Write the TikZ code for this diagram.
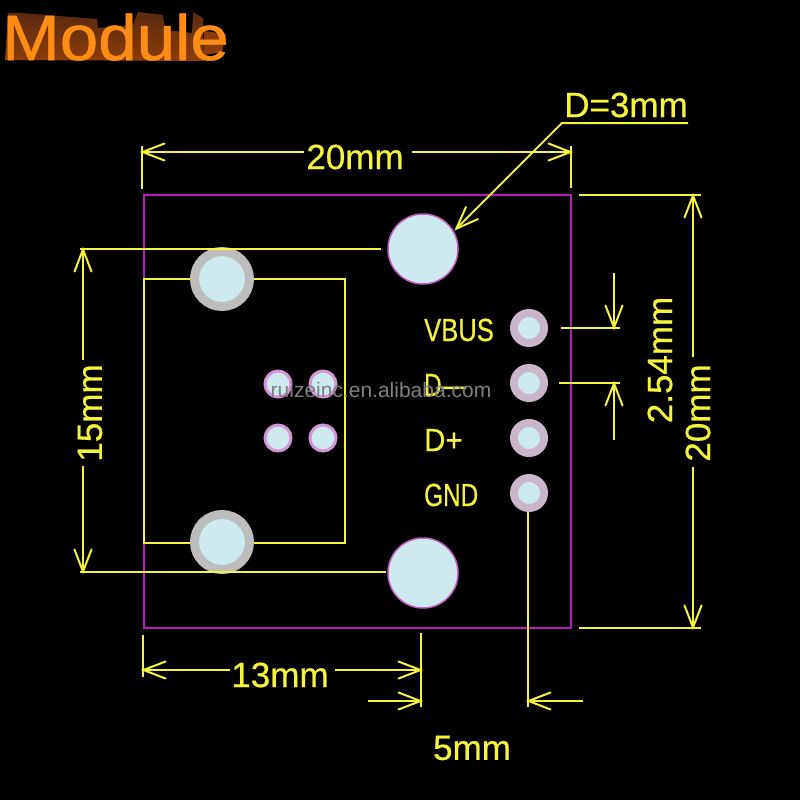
\documentclass[tikz,border=0pt]{standalone}
\usepackage{fontspec}
\setmainfont{Liberation Sans}
\newfontfamily\cadfont[FakeBold=0.6]{Liberation Sans}
\newfontfamily\modfont[FakeBold=0.8]{Liberation Sans}
\usetikzlibrary{arrows.meta}
\definecolor{cadyellow}{HTML}{F4F43C}
\definecolor{boardmag}{HTML}{B81CB8}
\definecolor{padblue}{HTML}{CDEBEE}
\definecolor{padlilac}{HTML}{C9B7C9}
\definecolor{padgray}{HTML}{BDBDBD}
\definecolor{rimmag}{HTML}{C060C0}
\definecolor{tinyrim}{HTML}{D494D8}
\definecolor{modorange}{HTML}{FF8C14}
\definecolor{modbrowntop}{HTML}{5A2A10}
\definecolor{modbrownlow}{HTML}{8C3C08}
\pgfdeclarearrow{
  name=CadBarb,
  setup code={\pgfarrowssettipend{0.5pt}\pgfarrowssetlineend{-0.5pt}\pgfarrowssetvisualbackend{-21pt}\pgfarrowssetbackend{-21pt}},
  drawing code={\pgfsetdash{}{0pt}\pgfsetroundcap\pgfpathmoveto{\pgfpoint{-22pt}{8.5pt}}\pgfpathlineto{\pgfpoint{0pt}{0pt}}\pgfpathlineto{\pgfpoint{-22pt}{-8.5pt}}\pgfusepathqstroke},
}
\tikzset{
  dimline/.style={draw=cadyellow,line width=2pt},
  dimarrow/.style={dimline,-{CadBarb}},
  cadtext/.style={text=cadyellow,inner sep=0pt,font=\cadfont\fontsize{35}{35}\selectfont},
  pintext/.style={text=cadyellow,inner sep=0pt,anchor=west,xscale=0.8,font=\cadfont\fontsize{32}{32}\selectfont},
  hole/.style={circle,draw=rimmag,line width=1.5pt,fill=padblue,minimum size=#1,inner sep=0pt},
  graypad/.style={circle,draw=padgray,line width=9pt,fill=padblue,minimum size=#1,inner sep=0pt},
  pinpad/.style={circle,draw=padlilac,line width=8pt,fill=padblue,minimum size=#1,inner sep=0pt},
  tinypad/.style={circle,draw=tinyrim,line width=3pt,fill=padblue,minimum size=#1,inner sep=0pt},
}
\begin{document}
\begin{tikzpicture}[x=1pt,y=-1pt]
\useasboundingbox[fill=black] (0,0) rectangle (800,800);
% Module banner
\shade[top color=modbrowntop,bottom color=modbrownlow]
  (5,60) -- (8,13) -- (20,13) -- (97,19) -- (98,28) -- (133,25) -- (138,12) -- (163,15) -- (165,30) -- (192,33) -- (193,12) -- (203,18) -- (204,61) -- cycle;
\fill[modbrownlow] (204,31) -- (226,34) -- (222,52) -- (204,55) -- cycle;
\node[text=modorange,inner sep=0pt,anchor=base west,xscale=1.08,font=\modfont\fontsize{64}{64}\selectfont] (module) at (2,60) {Module};
% Board
\draw[boardmag,line width=2.5pt] (144,195) rectangle (571,628);
% Connector outline
\draw[dimline] (144,279) rectangle (345,543);
% Mounting holes
\node[hole=70pt] (holetop) at (423,249) {};
\node[hole=70pt] (holebot) at (423,573) {};
\node[graypad=55pt] (shelltop) at (222,279) {};
\node[graypad=55pt] (shellbot) at (222,542) {};
% Small pads
\node[tinypad=26pt] (ta) at (278,384) {};
\node[tinypad=26pt] (tb) at (323,384) {};
\node[tinypad=26pt] (tc) at (278,438) {};
\node[tinypad=26pt] (td) at (323,438) {};
% Pin pads
\node[pinpad=30pt] (p1) at (529,328) {};
\node[pinpad=30pt] (p2) at (529,383) {};
\node[pinpad=30pt] (p3) at (529,438) {};
\node[pinpad=30pt] (p4) at (529,493) {};
% Pin labels
\node[pintext] (vbus) at (424,330) {VBUS};
\node[pintext,xscale=0.95] (dm) at (424,385) {D—};
\node[pintext,xscale=1.15] (dp) at (424,440) {D+};
\node[pintext,xscale=0.95] (gnd) at (424,495) {GND};
% Watermark
\node[text=gray,inner sep=0pt,font=\fontsize{21}{21}\selectfont] (wm) at (381,390) {ruizeinc.en.alibaba.com};
% 20mm top
\node[cadtext] (w20) at (355,157) {20mm};
\draw[dimline] (142,146) -- (142,189) (571,146) -- (571,188);
\draw[dimarrow] (304,152) -- (142,152);
\draw[dimarrow] (412,152) -- (571,152);
% D=3mm
\node[cadtext] (d3) at (626,105) {D=3mm};
\draw[dimarrow] (688,123) -- (562,123) -- (456,229);
% right 20mm
\node[cadtext,rotate=90] (h20) at (698,413) {20mm};
\draw[dimline] (579,195) -- (701,195) (579,628) -- (701,628);
\draw[dimarrow] (693,357) -- (693,195);
\draw[dimarrow] (693,467) -- (693,628);
% 2.54mm
\node[cadtext,rotate=90] (p254) at (660,360) {2.54mm};
\draw[dimline] (561,328) -- (620,328) (559,383) -- (620,383);
\draw[dimarrow] (614,273) -- (614,328);
\draw[dimarrow] (614,440) -- (614,383);
% 15mm
\node[cadtext,rotate=90] (h15) at (90,413) {15mm};
\draw[dimline] (80,249) -- (381,249) (80,572) -- (386,572);
\draw[dimarrow] (83,360) -- (83,249);
\draw[dimarrow] (83,466) -- (83,572);
% 13mm
\node[cadtext] (w13) at (280,675) {13mm};
\draw[dimline] (143,635) -- (143,677) (421,633) -- (421,707);
\draw[dimarrow] (230,670) -- (143,670);
\draw[dimarrow] (335,670) -- (421,670);
% 5mm
\node[cadtext] (w5) at (472,748) {5mm};
\draw[dimline] (528,512) -- (528,707);
\draw[dimarrow] (368,701) -- (421,701);
\draw[dimarrow] (583,701) -- (528,701);
\end{tikzpicture}
\end{document}
